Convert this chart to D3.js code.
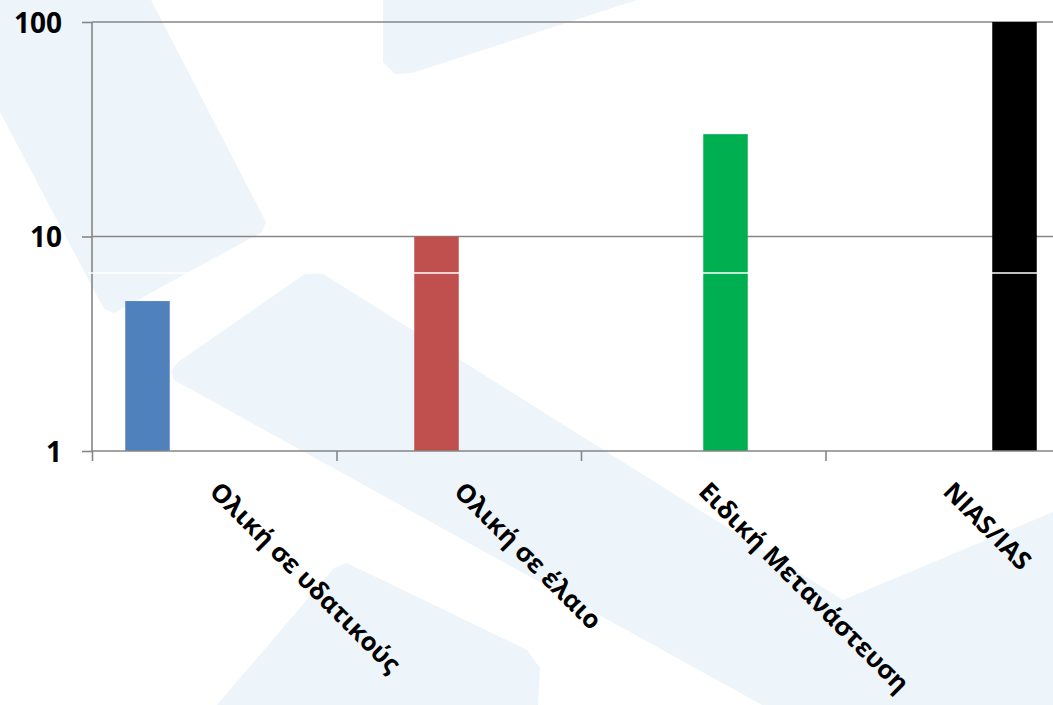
<!DOCTYPE html>
<html>
<head>
<meta charset="utf-8">
<script src="https://cdn.jsdelivr.net/npm/d3@7"></script>
<style>
  html, body { margin: 0; padding: 0; background: #ffffff; }
  svg { display: block; }
</style>
</head>
<body>
<svg id="chart" width="1053" height="705"></svg>
<script>
// ---- data ----
const categories = ["Ολική σε υδατικούς", "Ολική σε έλαιο", "Ειδική Μετανάστευση", "NIAS/IAS"];
const values = [5, 10, 30, 100];
const colors = ["#4F81BD", "#C0504D", "#00B050", "#000000"];
const yTicks = [1, 10, 100];

// ---- layout ----
const W = 1053, H = 705;
const plotLeft = 92, plotTop = 22, plotBottom = 451;
const catStep = 244.5;

const svg = d3.select("#chart");

// watermark background shapes
const wm = svg.append("g").attr("fill", "#EDF4FA");
const shapes = [
  [[0,0],[151,0],[266,222],[262,232],[114,313],[104,309],[0,112]],
  [[383,0],[383,62],[395,74],[412,73],[637,0]],
  [[171,371],[178,362],[305,274],[320,272],[843,600],[1053,512],[1053,705],[762,705],[174,380]],
  [[217,705],[334,568],[347,563],[527,650],[540,668],[538,705]]
];
const line = d3.line().curve(d3.curveLinearClosed);
wm.selectAll("path").data(shapes).join("path").attr("d", line);

const x0 = d3.scaleBand().domain(categories).range([plotLeft, plotLeft + catStep * categories.length]).paddingInner(0).paddingOuter(0);
const x1 = d3.scaleBand().domain(d3.range(categories.length)).range([0, x0.bandwidth()]).paddingInner(0).paddingOuter(0.747);
const y = d3.scaleLog().domain([1, 100]).range([plotBottom, plotTop]);

const grey = "#868686";

// gridlines
svg.append("g").selectAll("line").data(yTicks.filter(d => d > 1)).join("line")
  .attr("x1", plotLeft).attr("x2", W).attr("y1", d => y(d)).attr("y2", d => y(d))
  .attr("stroke", grey).attr("stroke-width", 1.6);

// bars
svg.append("g").selectAll("rect").data(values).join("rect")
  .attr("x", (d, i) => x0(categories[i]) + x1(i))
  .attr("width", x1.bandwidth())
  .attr("y", d => y(d))
  .attr("height", d => plotBottom - y(d))
  .attr("fill", (d, i) => colors[i]);

// y axis
const yAxis = d3.axisLeft(y).tickValues(yTicks).tickFormat(d3.format("d")).tickSize(10).tickPadding(20);
const gy = svg.append("g").attr("transform", `translate(${plotLeft},0)`).call(yAxis);
gy.select(".domain").attr("stroke", grey).attr("stroke-width", 1.6).attr("d", `M0,${plotTop}V${plotBottom}`);
gy.selectAll(".tick line").attr("stroke", grey).attr("stroke-width", 1.6);
gy.selectAll(".tick text")
  .attr("font-family", "'Open Sans', sans-serif").attr("font-weight", "bold")
  .attr("font-size", 28).attr("fill", "#000").attr("dy", "0.36em");

// x axis
const xAxis = d3.axisBottom(d3.scaleLinear().domain([0, categories.length]).range([plotLeft, plotLeft + catStep * categories.length]))
  .tickValues(d3.range(categories.length + 1)).tickSize(10).tickFormat("");
const gx = svg.append("g").attr("transform", `translate(0,${plotBottom})`).call(xAxis);
gx.select(".domain").attr("stroke", grey).attr("stroke-width", 1.6).attr("d", `M${plotLeft},0H${W}`);
gx.selectAll(".tick line").attr("stroke", grey).attr("stroke-width", 1.6);

// category labels
svg.append("g").selectAll("text").data(categories).join("text")
  .attr("transform", d => `translate(${x0(d) + x0.bandwidth() / 2 - 6},${plotBottom + 42}) rotate(45)`)
  .attr("font-family", "'Open Sans', sans-serif").attr("font-weight", "bold")
  .attr("font-size", 25.5).attr("fill", "#000")
  .text(d => d);

// thin white artifact line across the plot
svg.append("line").attr("x1", 88).attr("x2", W).attr("y1", 273).attr("y2", 273)
  .attr("stroke", "#ffffff").attr("stroke-width", 1.5);
</script>
</body>
</html>
